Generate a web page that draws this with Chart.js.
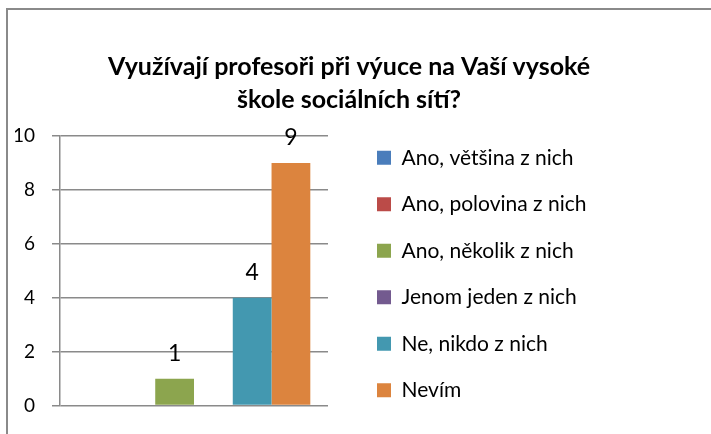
<!DOCTYPE html>
<html>
<head>
<meta charset="utf-8">
<script src="https://cdn.jsdelivr.net/npm/chart.js@4"></script>
<style>
  html, body { margin: 0; padding: 0; background: #fff; }
  #wrap { position: relative; width: 711px; height: 434px; overflow: hidden; }
  #frame { position: absolute; left: 6px; top: 8px; width: 800px; height: 600px;
           border-left: 2px solid #8a8a8a; border-top: 2px solid #8a8a8a; }
  canvas { position: absolute; left: 0; top: 0; }
</style>
</head>
<body>
<div id="wrap">
  <div id="frame"></div>
  <canvas id="chart" width="711" height="434"></canvas>
</div>
<script>
// Data
const categories = [''];
const seriesNames = [
    'Ano, většina z nich',
    'Ano, polovina z nich',
    'Ano, několik z nich',
    'Jenom jeden z nich',
    'Ne, nikdo z nich',
    'Nevím'
];
const seriesValues = [0, 0, 1, 0, 4, 9];
const yTicks = [0, 2, 4, 6, 8, 10];
const titleLines = ['Využívají profesoři při výuce na Vaší vysoké', 'škole sociálních sítí?'];

const colors = ['#4a7dbb', '#bb4b48', '#8ca54e', '#735a8f', '#4398b0', '#dc843e'];
const FONT = 'Lato, "Open Sans", sans-serif';

// value labels above bars (zero values are not shown)
const valueLabels = {
    id: 'valueLabels',
    afterDatasetsDraw(chart) {
        const ctx = chart.ctx;
        ctx.save();
        ctx.font = '23px ' + FONT;
        ctx.fillStyle = '#000';
        ctx.textAlign = 'center';
        ctx.textBaseline = 'alphabetic';
        chart.data.datasets.forEach((ds, i) => {
            chart.getDatasetMeta(i).data.forEach((bar, j) => {
                const v = ds.data[j];
                if (!v) return;
                ctx.fillText(String(v), bar.x, bar.y - 18);
            });
        });
        ctx.restore();
    }
};

// legend: fixed width (title stays centred), one column, taller box
const legendBox = {
    id: 'legendBox',
    beforeUpdate(chart) {
        const legend = chart.legend;
        if (!legend || legend._fixed) return;
        const fit = legend.fit;
        legend.fit = function () {
            this.maxHeight = 1000;
            fit.call(this);
            this.width = 331.5;
        };
        legend._fixed = true;
    },
    afterLayout(chart) {
        const legend = chart.legend;
        legend.top = 114;
        legend.bottom = 434;
        legend.height = 320;
    }
};

new Chart(document.getElementById('chart'), {
    type: 'bar',
    data: {
        labels: categories,
        datasets: seriesNames.map((name, i) => ({
            label: name,
            data: [seriesValues[i]],
            backgroundColor: colors[i],
            borderWidth: 0,
            categoryPercentage: 0.868,
            barPercentage: 1
        }))
    },
    options: {
        responsive: false,
        animation: false,
        layout: { padding: { left: 15, right: 28, top: 0, bottom: 27 } },
        plugins: {
            title: {
                display: true,
                text: titleLines,
                color: '#000',
                font: { family: FONT, size: 25, weight: 'bold', lineHeight: 1.32 },
                padding: { top: 50, bottom: 20 }
            },
            legend: {
                position: 'right',
                fullSize: false,
                align: 'center',
                labels: {
                    color: '#000',
                    font: { family: FONT, size: 21 },
                    boxWidth: 14,
                    boxHeight: 14,
                    padding: 25.5
                }
            },
            tooltip: { enabled: false }
        },
        scales: {
            x: {
                ticks: { display: false },
                grid: { display: false },
                border: { display: false },
                afterFit: s => { s.height = 0; }
            },
            y: {
                min: 0,
                max: 10,
                afterBuildTicks: s => { s.ticks = yTicks.map(v => ({ value: v })); },
                ticks: { color: '#000', font: { family: FONT, size: 19 }, padding: 17 },
                grid: { color: '#8a8a8a', lineWidth: 1.5, tickLength: 8 },
                border: { color: '#8a8a8a', width: 1.5 },
                afterFit: s => { s.width = 45; }
            },
            // empty axis on the right, only keeps a gap before the legend
            gap: {
                position: 'right',
                display: true,
                ticks: { display: false },
                grid: { display: false, drawTicks: false },
                border: { display: false },
                afterFit: s => { s.width = 23.5; }
            }
        }
    },
    plugins: [valueLabels, legendBox]
});
</script>
</body>
</html>
